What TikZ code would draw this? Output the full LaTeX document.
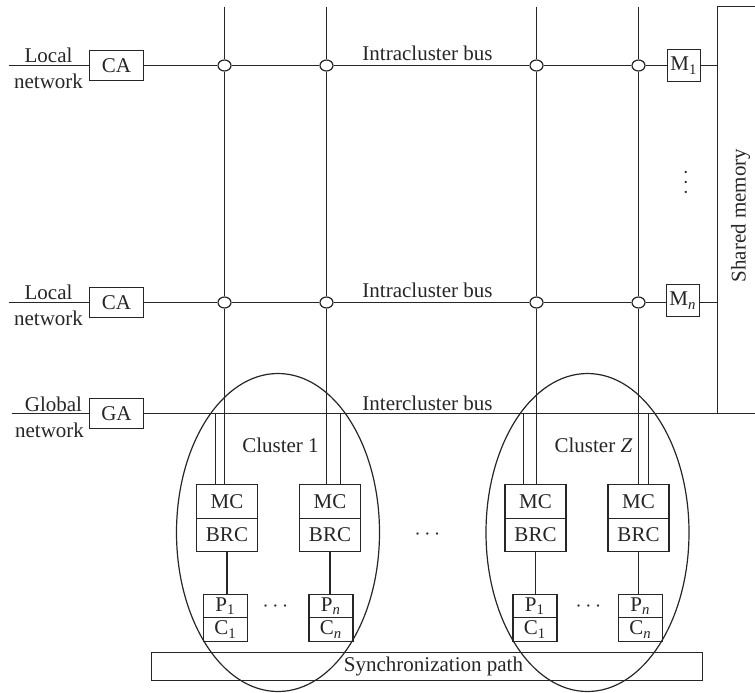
\documentclass[tikz,border=0pt]{standalone}
\usepackage{fontspec}
\setmainfont{Liberation Serif}
\usepackage{tikz}
\usetikzlibrary{positioning,calc,shapes.geometric}
\definecolor{pline}{HTML}{262626}

\begin{document}
\begin{tikzpicture}[x=0.5pt, y=-0.5pt, line width=0.6pt, draw=pline, text=pline,
  font=\fontsize{10.5}{12}\selectfont,
  txt/.style={inner sep=0pt},
  adapter/.style={draw, fill=white, inner sep=0pt, minimum width=27pt, minimum height=15pt},
  membox/.style={draw, fill=white, inner sep=0pt, minimum width=16.5pt, minimum height=16pt},
  ctrl/.style={draw, fill=white, inner sep=0pt, minimum width=30.5pt, minimum height=16.75pt},
  cpu/.style={draw, fill=white, inner sep=0pt, minimum width=22pt, minimum height=11.75pt},
  tapnode/.style={draw, fill=white, ellipse, inner sep=0pt, minimum width=6.5pt, minimum height=5.5pt},
  ring/.style={draw, ellipse, inner sep=0pt, minimum width=101.5pt, minimum height=159pt},
  syncbox/.style={draw, inner sep=0pt, minimum width=275.5pt, minimum height=14pt}]
  \useasboundingbox (0.5,0.5) rectangle (755.5,692.5);
  % --- free ends of the buses
  \coordinate (lan1) at (9,66);
  \coordinate (lan2) at (9,303);
  \coordinate (wan) at (12,414);
  \coordinate (busend) at (756,414);
  \coordinate (top1) at (225,7);
  \coordinate (top2) at (327,7);
  \coordinate (top3) at (537,7);
  \coordinate (top4) at (639,7);
  \coordinate (smtr) at (756,7);
  \coordinate (smtl) at (718,7);
  \coordinate (smbl) at (718,414);
  % --- taps on the intercluster bus
  \coordinate (gtap1) at (216,414);
  \coordinate (gtap2) at (341,414);
  \coordinate (gtap3) at (524,414);
  \coordinate (gtap4) at (649,414);
  % --- adapters
  \node[adapter] (ca1) at (117,66) {CA};
  \node[adapter] (ca2) at (117,303) {CA};
  \node[adapter] (ga) at (117,414) {GA};
  % --- memory modules
  \node[membox] (m1) at (684.5,66) {M\textsubscript{1}};
  \node[membox] (mn) at (683.5,301) {M\textsubscript{\textit{n}}};
  % --- crossings
  \node[tapnode] (x11) at (225,66) {};
  \node[tapnode] (x12) at (327,66) {};
  \node[tapnode] (x13) at (537,66) {};
  \node[tapnode] (x14) at (639,66) {};
  \node[tapnode] (x21) at (225,303) {};
  \node[tapnode] (x22) at (327,303) {};
  \node[tapnode] (x23) at (537,303) {};
  \node[tapnode] (x24) at (639,303) {};
  % --- cluster 1
  \node[ctrl] (mc1) at (227.5,502) {MC};
  \node[ctrl] (brc1) at (227.5,535.5) {BRC};
  \node[ctrl] (mc2) at (330.5,502) {MC};
  \node[ctrl] (brc2) at (330.5,535.5) {BRC};
  \node[cpu] (p1) at (226,606.5) {P\textsubscript{1}};
  \node[cpu] (c1) at (226,630) {C\textsubscript{1}};
  \node[cpu] (p2) at (331.5,606.5) {P\textsubscript{\textit{n}}};
  \node[cpu] (c2) at (331.5,630) {C\textsubscript{\textit{n}}};
  % --- cluster Z
  \node[ctrl] (mc3) at (536,502) {MC};
  \node[ctrl] (brc3) at (536,535.5) {BRC};
  \node[ctrl] (mc4) at (639,502) {MC};
  \node[ctrl] (brc4) at (639,535.5) {BRC};
  \node[cpu] (p3) at (535.5,606.5) {P\textsubscript{1}};
  \node[cpu] (c3) at (535.5,630) {C\textsubscript{1}};
  \node[cpu] (p4) at (641,606.5) {P\textsubscript{\textit{n}}};
  \node[cpu] (c4) at (641,630) {C\textsubscript{\textit{n}}};
  % --- synchronization path and rings
  \node[syncbox] (sync) at (427.5,667) {\hspace*{6.5pt}Synchronization path};
  \node[ring] (ring1) at (278.5,533) {};
  \node[ring] (ringz) at (588,533) {};
  % --- labels
  \node[txt] (lab1) at (49,56) {Local};
  \node[txt] (net1) at (49,82) {network};
  \node[txt] (lab2) at (49,293) {Local};
  \node[txt] (net2) at (49,319) {network};
  \node[txt] (lab3) at (54,405) {Global};
  \node[txt] (net3) at (50,431) {network};
  \node[txt] (intra1) at (428,54) {Intracluster bus};
  \node[txt] (intra2) at (428,291) {Intracluster bus};
  \node[txt] (inter) at (428,404) {Intercluster bus};
  \node[txt] (name1) at (281,446) {Cluster 1};
  \node[txt] (namez) at (594,446) {Cluster \textit{Z}};
  \node[txt] (dots1) at (276,607) {$\cdots$};
  \node[txt] (dots2) at (589,607) {$\cdots$};
  \node[txt] (dots3) at (428,535) {$\cdots$};
  \node[txt, rotate=90] (dots4) at (687,183) {$\cdots$};
  \node[txt, rotate=90] (shm) at (741,216) {Shared memory};
  % --- buses
  \draw (lan1) -- (ca1);
  \draw (lan2) -- (ca2);
  \draw (wan) -- (ga);
  \draw (ca1) -- (x11) -- (x12) -- (x13) -- (x14) -- (m1);
  \draw (ca2) -- (x21) -- (x22) -- (x23) -- (x24) -- (x24 -| mn.west);
  \draw (ga) -- (busend);
  \draw (top1) -- (x11) -- (x21) -- (x21 |- mc1.north);
  \draw (top2) -- (x12) -- (x22) -- (x22 |- mc2.north);
  \draw (top3) -- (x13) -- (x23) -- (x23 |- mc3.north);
  \draw (top4) -- (x14) -- (x24) -- (x24 |- mc4.north);
  \draw (gtap1) -- (gtap1 |- mc1.north);
  \draw (gtap2) -- (gtap2 |- mc2.north);
  \draw (gtap3) -- (gtap3 |- mc3.north);
  \draw (gtap4) -- (gtap4 |- mc4.north);
  % --- shared memory
  \draw (smtr) -- (smtl) -- (smbl);
  \draw (m1) -- (m1 -| smtl);
  \draw (x24 -| mn.east) -- (x24 -| smtl);
  % --- controller to processor
  \draw (brc1.south) -- (p1.north -| brc1.south);
  \draw (brc2.south) -- (p2.north -| brc2.south);
  \draw (brc3.south) -- (p3.north -| brc3.south);
  \draw (brc4.south) -- (p4.north -| brc4.south);
\end{tikzpicture}
\end{document}
